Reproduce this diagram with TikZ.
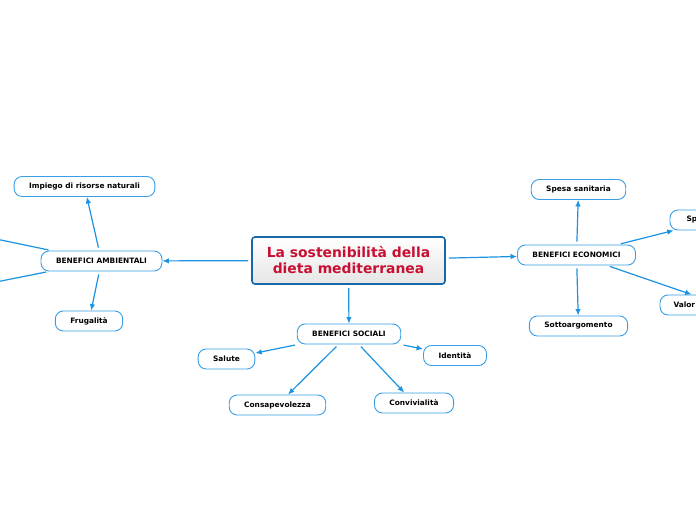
\documentclass[tikz,border=0pt]{standalone}
\usepackage{fontspec}
\setmainfont{DejaVu Sans}
\usetikzlibrary{arrows.meta,positioning}

\definecolor{linkblue}{RGB}{28,146,226}
\definecolor{boxblue}{RGB}{56,158,230}
\definecolor{rootblue}{RGB}{22,104,168}
\definecolor{titlered}{RGB}{200,16,50}

\begin{document}
\begin{tikzpicture}[x=1pt, y=-1pt,
    topic/.style={draw=boxblue, fill=white, line width=0.9pt, rounded corners=8pt,
        minimum height=20pt, inner xsep=15pt, inner ysep=0pt,
        font=\bfseries\fontsize{7.4}{9}\selectfont},
    cutoff/.style={topic, inner xsep=15pt, align=left},
    root/.style={draw=rootblue, line width=1.6pt, rounded corners=3pt,
        top color=white, bottom color=black!10, minimum width=193pt, minimum height=47pt,
        align=center, text=titlered, font=\bfseries\fontsize{13.9}{16}\selectfont},
    link/.style={draw=linkblue, line width=1.2pt, -{Latex[length=6.5pt,width=5.5pt]}, shorten <=3pt}
  ]
    % Page
    \fill[white] (0,0) rectangle (696,520);
    \useasboundingbox (0,0) rectangle (696,520);

    % Central topic
    \node[root] (root) at (348.5,260.5) {La sostenibilità della\\dieta mediterranea};

    % Main branches
    \node[topic] (amb) at (101.5,261) {BENEFICI AMBIENTALI};
    \node[topic] (soc) at (349,334) {BENEFICI SOCIALI};
    \node[topic] (eco) at (576.5,255) {BENEFICI ECONOMICI};

    % Ambientali
    \node[topic] (imp) at (84.5,186.5) {Impiego di risorse naturali};
    \node[topic] (fru) at (89,321) {Frugalità};
    \coordinate (ambx) at (-15,236.7);
    \coordinate (amby) at (-15,284.2);

    % Sociali
    \node[topic] (sal) at (226.5,359) {Salute};
    \node[topic] (cons) at (277.5,405) {Consapevolezza};
    \node[topic] (conv) at (414,403) {Convivialità};
    \node[topic] (ide) at (455,355.5) {Identità};

    % Economici
    \node[topic] (spesa) at (578.5,189.5) {Spesa sanitaria};
    \node[topic] (sotto) at (578.5,326) {Sottoargomento};
    \node[cutoff, inner xsep=16.5pt, text width=57pt] (sp) at (715,220) {Sp};
    \node[cutoff, inner xsep=13.5pt, text width=97pt] (valor) at (722,305) {Valor};

    % Connectors
    \foreach \a/\b in {root/amb, root/soc, root/eco,
                       amb/imp, amb/fru, amb/ambx, amb/amby,
                       soc/sal, soc/cons, soc/conv, soc/ide,
                       eco/spesa, eco/sp, eco/valor, eco/sotto} {
        \draw[link] (\a) -- (\b);
    }
\end{tikzpicture}
\end{document}
